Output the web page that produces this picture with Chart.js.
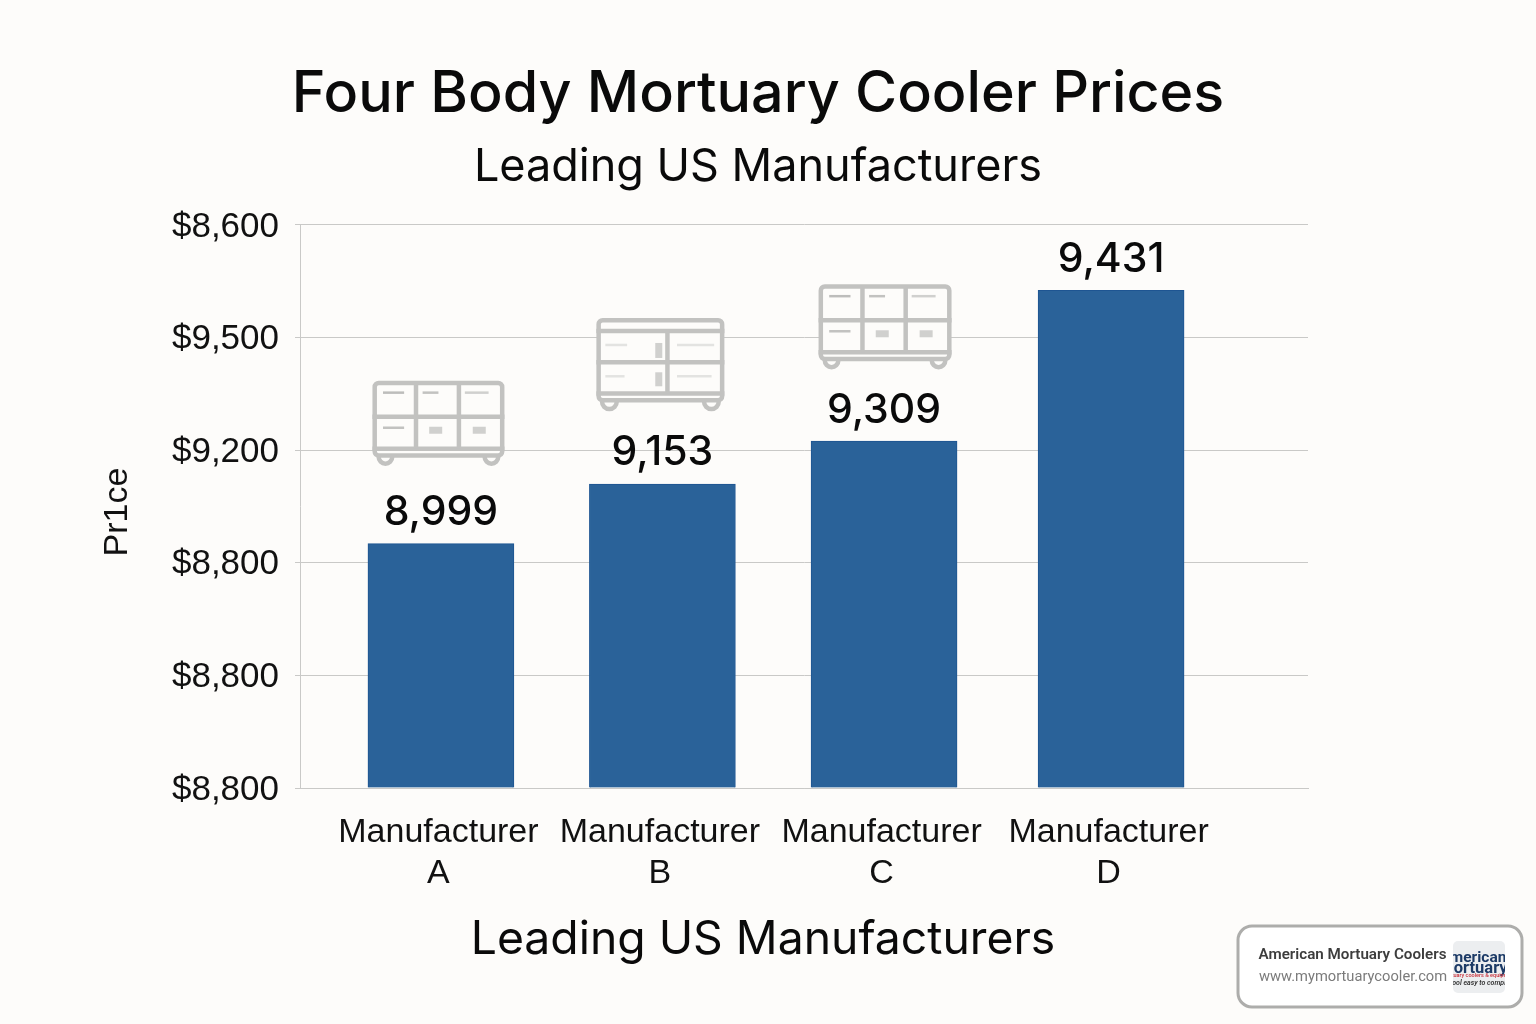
<!DOCTYPE html>
<html><head><meta charset="utf-8">
<style>html,body{margin:0;padding:0;background:#fdfcfa}canvas{display:block}</style>
<script src="https://cdn.jsdelivr.net/npm/chart.js@4/dist/chart.umd.min.js"></script>
</head><body><canvas id="c" width="1536" height="1024"></canvas>
<script>
const titleText = "Four Body Mortuary Cooler Prices";
const subtitleText = "Leading US Manufacturers";
const xTitleText = "Leading US Manufacturers";
const yTitleText = "Pr1ce";
const categories = [["Manufacturer","A"],["Manufacturer","B"],["Manufacturer","C"],["Manufacturer","D"]];
const barCenters = [0, 0.993, 1.987, 3.005];
const barLevels = [2.17, 2.70, 3.08, 4.42];
const valueLabels = ["8,999","9,153","9,309","9,431"];
const yTickLabels = ["$8,800","$8,800","$8,800","$9,200","$9,500","$8,600"];
const badgeName = "American Mortuary Coolers";
const badgeUrl = "www.mymortuarycooler.com";
const logoLines = ["American","Mortuary"];
const logoSmall = ["mortuary coolers & equipment","cool easy to comply"];

const F = "Inter";
const GRID = "#c9c9c7";
const ICON = "#c2c2c0";

function rr(ctx,x,y,w,h,r){ctx.beginPath();ctx.roundRect(x,y,w,h,r);}

function drawCooler(ctx,x,y,w,h,variant){
  ctx.save();
  const lw=4.5;
  const wheel=h*0.07, body=h-wheel;
  ctx.strokeStyle=ICON; ctx.lineWidth=lw; ctx.fillStyle="#fdfcfa";
  [x+13,x+w-13].forEach(cx=>{ctx.beginPath();ctx.arc(cx,y+body-1,wheel+1,0,Math.PI);ctx.stroke();});
  rr(ctx,x+lw/2,y+lw/2,w-lw,body-lw,4);ctx.fill();ctx.stroke();
  const railY=y+body-9;
  ctx.beginPath();ctx.moveTo(x,railY);ctx.lineTo(x+w,railY);ctx.stroke();
  const topY = variant===1 ? y+13 : y+2;
  if(variant===1){ctx.beginPath();ctx.moveTo(x,topY);ctx.lineTo(x+w,topY);ctx.stroke();}
  const midY=(topY+railY)/2+ (variant===1?0:1);
  ctx.beginPath();ctx.moveTo(x,midY);ctx.lineTo(x+w,midY);ctx.stroke();
  const cols = variant===1 ? [0.555] : [0.33,0.655];
  cols.forEach(c=>{ctx.beginPath();ctx.moveTo(x+w*c,topY);ctx.lineTo(x+w*c,railY);ctx.stroke();});
  ctx.lineWidth=2.5;
  const lines = variant===1
    ? [[0.07,0.24,topY+14,"#e3e3e1"],[0.63,0.92,topY+14,"#e3e3e1"],[0.07,0.22,midY+14,"#e3e3e1"],[0.63,0.9,midY+14,"#e3e3e1"]]
    : [[0.08,0.24,y+12,"#bdbdbb"],[0.38,0.5,y+12,"#c2c2c0"],[0.7,0.88,y+12,"#d0d0ce"],[0.08,0.24,midY+11,"#c2c2c0"]];
  lines.forEach(l=>{ctx.strokeStyle=l[3];ctx.beginPath();ctx.moveTo(x+w*l[0],l[2]);ctx.lineTo(x+w*l[1],l[2]);ctx.stroke();});
  ctx.fillStyle="#d0d0ce";
  if(variant===1){
    ctx.fillRect(x+w*0.46,topY+12,7,15);ctx.fillRect(x+w*0.46,midY+10,7,14);
  }else{
    ctx.fillRect(x+w*0.43,midY+10,13,7);ctx.fillRect(x+w*0.76,midY+10,13,7);
  }
  ctx.restore();
}

const annotate = {
  id:"annotate",
  afterDatasetsDraw(chart){
    const ctx=chart.ctx, xs=chart.scales.x, ys=chart.scales.y;
    ctx.save();
    ctx.fillStyle="#0a0a0a";ctx.font=`500 41px ${F}`;ctx.textAlign="center";ctx.textBaseline="middle";
    valueLabels.forEach((t,i)=>ctx.fillText(t,xs.getPixelForValue(barCenters[i]),ys.getPixelForValue(barLevels[i])-31));
    ctx.restore();
    const iconSpec=[[-2.5,132,83,80,0],[-2,128,91,75,1],[1,133,83,74,0]];
    iconSpec.forEach((s,i)=>{
      const cx=xs.getPixelForValue(barCenters[i])+s[0], top=ys.getPixelForValue(barLevels[i])-s[3]-s[2];
      drawCooler(ctx,cx-s[1]/2,top,s[1],s[2],s[4]);
    });
    ctx.save();
    ctx.fillStyle="#0a0a0a";ctx.font=`400 46.3px ${F}`;ctx.textAlign="center";ctx.textBaseline="middle";
    ctx.fillText(xTitleText,763,940);
    ctx.restore();
    ctx.save();
    ctx.translate(118,512);ctx.rotate(-Math.PI/2);
    ctx.fillStyle="#111";ctx.font="34px 'Liberation Sans'";ctx.textAlign="center";ctx.textBaseline="middle";
    ctx.fillText(yTitleText,0,0);
    ctx.restore();
    ctx.save();
    rr(ctx,1238,926,284,81,14);ctx.fillStyle="#fff";ctx.fill();ctx.lineWidth=3;ctx.strokeStyle="#adadab";ctx.stroke();
    ctx.textBaseline="middle";ctx.textAlign="left";
    ctx.fillStyle="#3d3d3d";ctx.font="600 15.2px Roboto";ctx.fillText(badgeName,1258.5,955.5);
    ctx.fillStyle="#7b7b7b";ctx.font="400 14.7px Roboto";ctx.fillText(badgeUrl,1259,977.5);
    rr(ctx,1453,941,52,52,5);ctx.fillStyle="#eceef0";ctx.fill();ctx.clip();
    ctx.textAlign="center";ctx.fillStyle="#1c3a66";
    ctx.font="700 15.5px Roboto";ctx.fillText(logoLines[0],1473,958);
    ctx.font="700 16.5px Roboto";ctx.fillText(logoLines[1],1473.5,969);
    ctx.fillStyle="#c8323c";ctx.font="500 5.5px Roboto";ctx.fillText(logoSmall[0],1479,976);
    ctx.fillStyle="#333";ctx.font="italic 600 7px Roboto";ctx.fillText(logoSmall[1],1479,983);
    ctx.restore();
  }
};

new Chart(document.getElementById("c"),{
  type:"bar",
  data:{datasets:[{
    data:barLevels.map((v,i)=>({x:barCenters[i],y:v})),
    backgroundColor:"#2a6299",borderColor:"#1e5592",borderWidth:1,barThickness:146
  }]},
  plugins:[annotate,{id:"bg",beforeDraw(ch){ch.ctx.save();ch.ctx.fillStyle="#fdfcfa";ch.ctx.fillRect(0,0,ch.width,ch.height);ch.ctx.restore();}}],
  options:{
    responsive:false,animation:false,devicePixelRatio:1,
    layout:{padding:{left:0,right:20,top:0,bottom:0}},
    plugins:{
      legend:{display:false},tooltip:{enabled:false},
      title:{display:true,text:titleText,color:"#0a0a0a",font:{family:F,size:57.4,weight:"500"},padding:{top:60,bottom:0}},
      subtitle:{display:true,text:subtitleText,color:"#0a0a0a",font:{family:F,size:45,weight:"400"},padding:{top:11.7,bottom:30.4}}
    },
    scales:{
      x:{type:"linear",position:"bottom",offset:false,min:-0.632,max:3.888,
        afterBuildTicks(s){s.ticks=barCenters.map(c=>({value:c}));},
        afterFit(s){s.height=236;},
        grid:{display:false,offset:false},border:{display:true,color:GRID,width:1},
        ticks:{autoSkip:false,maxRotation:0,minRotation:0,padding:16,labelOffset:-2.5,color:"#111",
          font:{family:"Liberation Sans",size:34},
          callback:v=>categories[barCenters.indexOf(v)]}
      },
      y:{type:"linear",position:"left",min:0,max:5,
        afterFit(s){s.width=300;},
        grid:{color:GRID,lineWidth:1,tickLength:5},border:{display:true,color:GRID,width:1},
        ticks:{stepSize:1,padding:16,labelOffset:2,color:"#111",font:{family:"Liberation Sans",size:35},callback:v=>yTickLabels[v]}
      },
      gap:{type:"linear",position:"right",min:0,max:1,display:true,
        afterFit(s){s.width=208;},
        grid:{display:false,drawTicks:false},border:{display:false},ticks:{display:false}
      }
    }
  }
});
</script></body></html>
